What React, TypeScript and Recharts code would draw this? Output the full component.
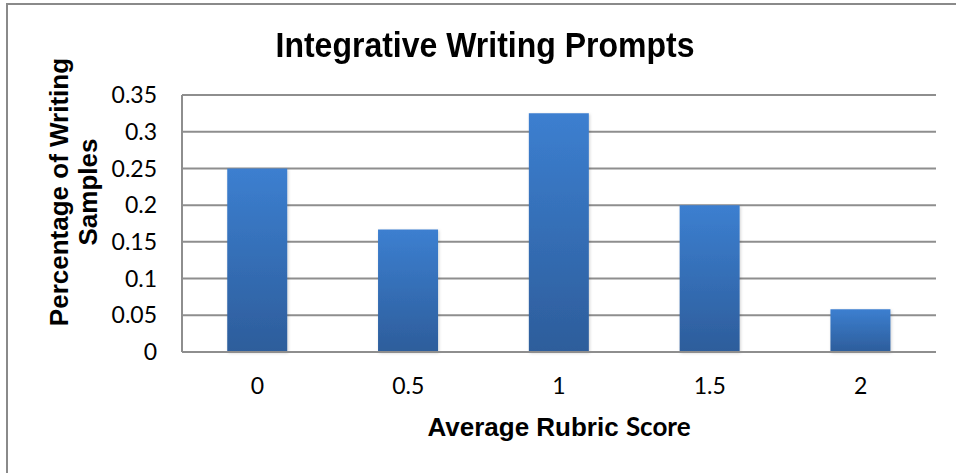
import React from 'react';
import { BarChart, Bar, XAxis, YAxis, CartesianGrid } from 'recharts';

// share of writing samples at each average rubric score
const scores = ['0', '0.5', '1', '1.5', '2'];
const shares = [0.25, 0.1667, 0.325, 0.2, 0.0583];
const yTicks = [0, 0.05, 0.1, 0.15, 0.2, 0.25, 0.3, 0.35];

const chartData = scores.map((score, i) => ({ score, share: shares[i] }));

const GRID = '#8e8e8e';
const ARIAL = '"Liberation Sans", Arial, sans-serif';
const TICK_FONT = 'Lato, "Open Sans", sans-serif';

const tickStyle = { fontFamily: TICK_FONT, fontSize: 23, fill: '#000' };

export default function App() {
  return (
    <div
      style={{
        position: 'absolute',
        left: 0,
        top: 0,
        width: 956,
        height: 473,
        overflow: 'hidden',
        background: '#fff',
      }}
    >
      {/* chart frame, runs off the right and bottom edges */}
      <div
        style={{
          position: 'absolute',
          left: 6,
          top: 3,
          width: 980,
          height: 500,
          border: '2px solid #8a8a8a',
          boxSizing: 'border-box',
        }}
      />

      <BarChart
        width={956}
        height={473}
        data={chartData}
        margin={{ top: 95, right: 20, bottom: 81, left: 102 }}
        barCategoryGap="30%"
        style={{ position: 'absolute', left: 0, top: 0 }}
      >
        <defs>
          <linearGradient id="barFill" x1="0" y1="0" x2="0" y2="1">
            <stop offset="0%" stopColor="#3c7fd0" />
            <stop offset="100%" stopColor="#2d5d9b" />
          </linearGradient>
          <filter id="barShadow" x="-20%" y="-5%" width="140%" height="115%">
            <feDropShadow dx="1" dy="1" stdDeviation="1.5" floodColor="#000" floodOpacity="0.18" />
          </filter>
        </defs>
        <CartesianGrid vertical={false} stroke={GRID} strokeWidth={2} />
        <XAxis
          dataKey="score"
          axisLine={{ stroke: GRID, strokeWidth: 2 }}
          tickLine={false}
          tickSize={0}
          tickMargin={26}
          height={40}
          tick={tickStyle}
        />
        <YAxis
          domain={[0, 0.35]}
          ticks={yTicks}
          interval={0}
          axisLine={{ stroke: GRID, strokeWidth: 2 }}
          tickLine={false}
          tickSize={0}
          tickMargin={25}
          width={80}
          tick={tickStyle}
        />
        <Bar
          dataKey="share"
          fill="url(#barFill)"
          filter="url(#barShadow)"
          isAnimationActive={false}
        />
      </BarChart>

      <div
        style={{
          position: 'absolute',
          left: 7,
          width: 956,
          top: 25,
          textAlign: 'center',
          fontFamily: ARIAL,
          fontWeight: 700,
          fontSize: 32,
          lineHeight: '40px',
          color: '#000',
          whiteSpace: 'nowrap',
          transform: 'scaleY(1.1)',
        }}
      >
        Integrative Writing Prompts
      </div>

      <div
        style={{
          position: 'absolute',
          left: 74 - 170,
          top: 192 - 29,
          width: 340,
          height: 58,
          transform: 'rotate(-90deg)',
          textAlign: 'center',
          fontFamily: ARIAL,
          fontWeight: 700,
          fontSize: 26,
          lineHeight: '29px',
          color: '#000',
          whiteSpace: 'nowrap',
        }}
      >
        Percentage of Writing
        <br />
        Samples
      </div>

      <div
        style={{
          position: 'absolute',
          left: 182,
          width: 754,
          top: 411,
          textAlign: 'center',
          fontFamily: ARIAL,
          fontWeight: 700,
          fontSize: 26,
          lineHeight: '30px',
          color: '#000',
          whiteSpace: 'nowrap',
        }}
      >
        Average Rubric <span style={{ fontFamily: TICK_FONT, fontWeight: 700 }}>Score</span>
      </div>
    </div>
  );
}
